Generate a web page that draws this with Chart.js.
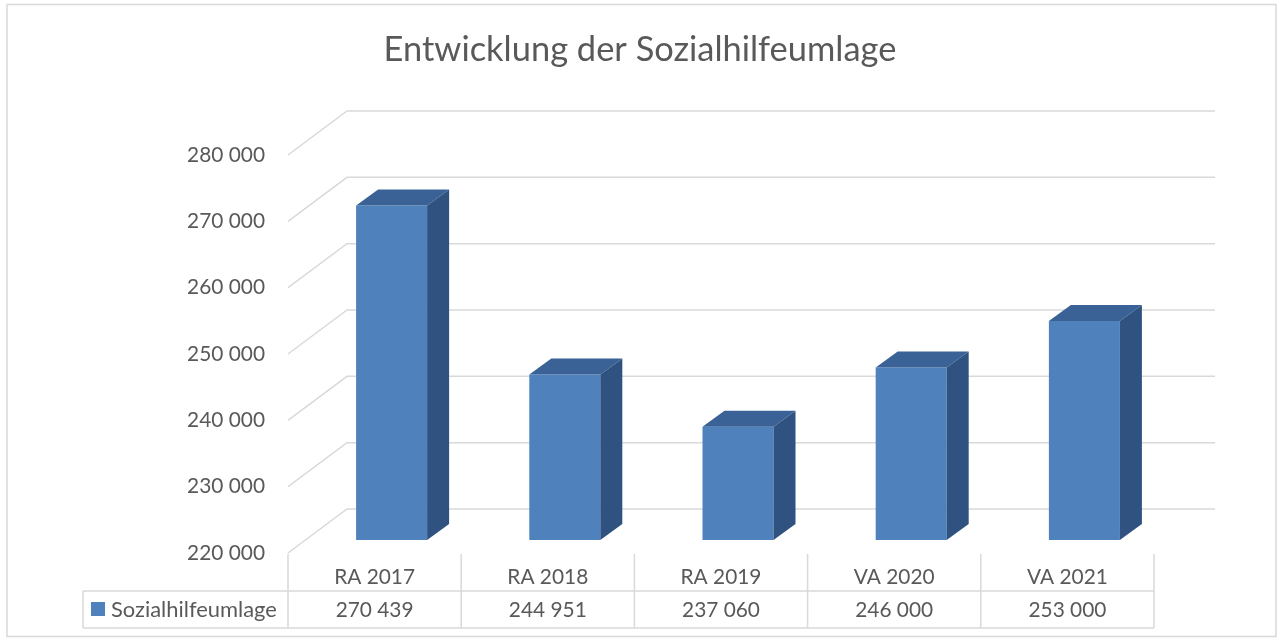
<!DOCTYPE html>
<html><head><meta charset="utf-8">
<script src="https://cdn.jsdelivr.net/npm/chart.js@4.4.1/dist/chart.umd.min.js"></script>
<style>html,body{margin:0;padding:0;background:#fff;}#wrap{width:1280px;height:641px;}</style>
</head><body><div id="wrap"><canvas id="c" width="1280" height="641"></canvas></div>
<script>
// ---- data ----
const chartTitle = 'Entwicklung der Sozialhilfeumlage';
const seriesName = 'Sozialhilfeumlage';
const categories = ['RA 2017', 'RA 2018', 'RA 2019', 'VA 2020', 'VA 2021'];
const values = [270439, 244951, 237060, 246000, 253000];
const yTicks = [220000, 230000, 240000, 250000, 260000, 270000, 280000];

// ---- style ----
const FAMILY = 'Lato, "Open Sans", sans-serif';
const TEXT = '#595959';
const GRID = '#d9d9d9';
const FRONT = '#4f81bd';
const TOP = '#3a6296';
const SIDE = '#2f5280';
const WALL = {dx: 59, dy: -44};
const BAR_OFF = {dx: 17, dy: -13};
const BAR_DEPTH = {dx: 22, dy: -16};

function fit(text, w) {
  const c = document.createElement('canvas').getContext('2d');
  c.font = '100px ' + FAMILY;
  return 100 * w / c.measureText(text).width;
}
const SMALL = fit('280 000', 78);
const LEGEND = fit(seriesName, 166);
const BIG = fit(chartTitle, 513);
const fmt = v => String(v).replace(/\B(?=(\d{3})+(?!\d))/g, ' ');

function poly(ctx, pts, color) {
  ctx.beginPath();
  ctx.moveTo(pts[0][0], pts[0][1]);
  for (let i = 1; i < pts.length; i++) ctx.lineTo(pts[i][0], pts[i][1]);
  ctx.closePath();
  ctx.fillStyle = color;
  ctx.fill();
}

const threeD = {
  id: 'threeD',
  beforeDatasetsDraw(chart) {
    const {ctx, chartArea: a, scales: {y}} = chart;
    ctx.save();
    ctx.strokeStyle = GRID; ctx.lineWidth = 1.5;
    y.ticks.forEach(t => {
      const py = y.getPixelForValue(t.value);
      ctx.beginPath();
      ctx.moveTo(a.left, py);
      ctx.lineTo(a.left + WALL.dx, py + WALL.dy);
      ctx.lineTo(a.right + WALL.dx + 2, py + WALL.dy);
      ctx.stroke();
    });
    ctx.restore();
    ctx.save();
    ctx.translate(BAR_OFF.dx, BAR_OFF.dy);
  },
  afterDatasetsDraw(chart) {
    const ctx = chart.ctx;
    const meta = chart.getDatasetMeta(0);
    meta.data.forEach(bar => {
      const {x, y, base, width} = bar.getProps(['x', 'y', 'base', 'width'], true);
      const l = x - width / 2, r = x + width / 2;
      const dx = BAR_DEPTH.dx, dy = BAR_DEPTH.dy;
      poly(ctx, [[l, y], [r, y], [r + dx, y + dy], [l + dx, y + dy]], TOP);
      poly(ctx, [[r, y], [r + dx, y + dy], [r + dx, base + dy], [r, base]], SIDE);
    });
    ctx.restore();
  },
  afterDraw(chart) {
    const {ctx, chartArea: a, scales: {x}} = chart;
    const n = categories.length;
    const top = a.bottom + 1, mid = 591, bot = 628, left = 83;
    ctx.save();
    ctx.strokeStyle = GRID; ctx.lineWidth = 1.5;
    ctx.beginPath();
    for (let i = 0; i <= n; i++) {
      const px = x.getPixelForValue(i - 0.5);
      ctx.moveTo(px, top); ctx.lineTo(px, bot);
    }
    ctx.moveTo(left, mid); ctx.lineTo(a.right, mid);
    ctx.moveTo(left, bot); ctx.lineTo(a.right, bot);
    ctx.moveTo(left, mid); ctx.lineTo(left, bot);
    ctx.stroke();
    // outer border
    ctx.strokeRect(7, 4.5, 1269, 632);
    // legend key + series name
    ctx.fillStyle = FRONT;
    ctx.fillRect(91, 602, 14, 14);
    ctx.fillStyle = TEXT;
    ctx.textBaseline = 'middle';
    ctx.textAlign = 'left';
    ctx.font = LEGEND + 'px ' + FAMILY;
    ctx.fillText(seriesName, 111, 610);
    ctx.font = SMALL + 'px ' + FAMILY;
    ctx.textAlign = 'center';
    values.forEach((v, i) => ctx.fillText(fmt(v), x.getPixelForValue(i), 610));
    ctx.restore();
  }
};

Chart.defaults.font.family = FAMILY;
Chart.defaults.color = TEXT;

const lh = BIG * 1.2;
new Chart(document.getElementById('c'), {
  type: 'bar',
  data: {
    labels: categories,
    datasets: [{
      label: seriesName,
      data: values,
      base: yTicks[0],
      backgroundColor: FRONT,
      borderWidth: 0,
      barPercentage: 0.41,
      categoryPercentage: 1,
      clip: false
    }]
  },
  options: {
    responsive: false,
    animation: false,
    events: [],
    layout: {padding: 0},
    plugins: {
      legend: {display: false},
      tooltip: {enabled: false},
      title: {
        display: true,
        text: chartTitle,
        color: TEXT,
        font: {size: BIG, weight: 'normal', family: FAMILY},
        padding: {top: 50 - lh / 2, bottom: 155 - 50 - lh / 2}
      }
    },
    scales: {
      x: {
        grid: {display: false, drawTicks: false},
        border: {display: false},
        ticks: {font: {size: SMALL}, color: TEXT, padding: 577 - 553 - SMALL * 0.6, maxRotation: 0},
        afterFit: s => { s.height = 88; }
      },
      y: {
        min: yTicks[0],
        max: yTicks[yTicks.length - 1],
        grid: {display: false, drawTicks: false},
        border: {display: false},
        afterBuildTicks: s => { s.ticks = yTicks.map(v => ({value: v})); },
        ticks: {font: {size: SMALL}, color: TEXT, padding: 23, callback: v => fmt(v)},
        afterFit: s => { s.width = 288; }
      },
      yRight: {
        position: 'right',
        min: yTicks[0],
        max: yTicks[yTicks.length - 1],
        grid: {display: false, drawTicks: false},
        border: {display: false},
        ticks: {display: false},
        afterFit: s => { s.width = 126; }
      }
    }
  },
  plugins: [threeD]
});
</script>
</body></html>
